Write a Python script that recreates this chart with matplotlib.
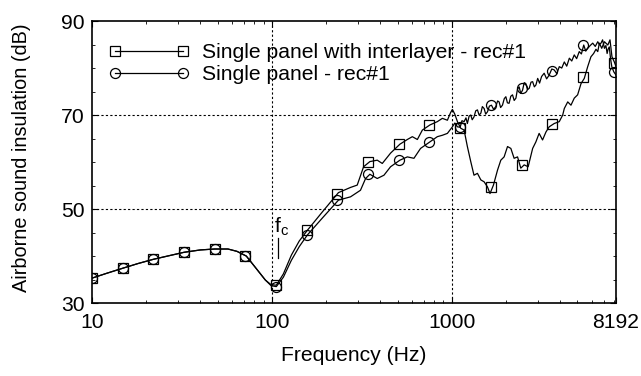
import matplotlib
matplotlib.use("Agg")
import matplotlib.pyplot as plt
from matplotlib.lines import Line2D
from matplotlib.ticker import FixedLocator, MultipleLocator, LogLocator, NullFormatter

plt.rcParams['font.family'] = ['Liberation Sans', 'DejaVu Sans']

# --- data ---
# single panel with interlayer (squares)
il_f = [10, 12, 14.8, 18, 21.9, 27, 32.5, 40, 48, 57, 64, 72.1, 80.9, 92, 99, 105.9,
        115.9, 128.4, 142, 157.7, 191, 234.6, 273.8, 298.3, 323.6, 350.8, 385.5, 411.1,
        457.1, 515.2, 566.6, 604, 644.2, 686.6, 757, 831.8, 887.2, 946.2, 985, 1009,
        1040, 1076, 1122, 1172, 1222, 1276, 1330, 1390, 1452, 1514, 1581, 1633, 1706,
        1798, 1875, 1956, 2043, 2132, 2223, 2323, 2421, 2529, 2661, 2818, 2938, 3062,
        3199, 3342, 3483, 3715, 3963, 4140, 4227, 4416, 4603, 4801, 5012, 5236, 5458,
        5702, 5943, 6152, 6339, 6486, 6622, 6823, 7063, 7379, 7586, 7780, 8017, 8192]
il_db = [35.3, 36.3, 37.4, 38.4, 39.3, 40.1, 40.8, 41.3, 41.5, 41.5, 41.0, 40.0, 37.6,
         34.9, 33.9, 33.8, 36.2, 40.2, 43.2, 45.5, 49.4, 53.5, 54.6, 55.1, 59.0, 60.1,
         60.4, 59.7, 61.9, 63.8, 64.8, 65.4, 64.8, 66.8, 67.9, 68.6, 69.3, 68.9, 70.5,
         71.2, 70.2, 68.6, 67.2, 66.8, 63.3, 60.1, 57.2, 57.6, 56.2, 55.8, 54.7, 53.3,
         55.1, 58.3, 60.4, 61.1, 63.3, 62.9, 60.8, 61.1, 58.7, 59.4, 59.0, 62.9, 64.3,
         66.1, 64.7, 66.4, 67.5, 68.2, 68.6, 70.0, 71.4, 72.8, 72.1, 73.6, 74.3, 76.7,
         77.8, 80.3, 82.4, 83.1, 84.0, 83.5, 85.3, 84.2, 85.6, 84.9, 86.0, 82.4, 81.3, 80.3]

# single panel (circles)
sp_f = [10, 12, 14.8, 18, 21.9, 27, 32.5, 40, 48, 57, 64, 72.1, 80.9, 92, 99, 105.9,
        115.9, 128.4, 142, 157.7, 191, 234.6, 273.8, 311, 332, 350.8, 385.5, 420, 457.1,
        515.2, 566.6, 616.6, 671, 757, 831.8, 887.2, 946.2, 1009, 1040, 1076, 1114, 1140,
        1172, 1200, 1222, 1250, 1276, 1300, 1330, 1360, 1390, 1420, 1452, 1480, 1514,
        1545, 1581, 1620, 1663, 1710, 1758, 1800, 1834, 1870, 1915, 1960, 2000, 2040,
        2084, 2130, 2178, 2225, 2275, 2320, 2371, 2420, 2477, 2530, 2582, 2640, 2698,
        2760, 2818, 2880, 2938, 3006, 3080, 3160, 3266, 3370, 3483, 3600, 3715, 3840,
        3963, 4090, 4227, 4360, 4508, 4650, 4801, 4950, 5117, 5260, 5420, 5560, 5702,
        5890, 6081, 6280, 6486, 6620, 6761, 6900, 7063, 7200, 7311, 7400, 7516, 7640,
        7762, 7962, 8192]
sp_db = [35.3, 36.3, 37.4, 38.4, 39.3, 40.1, 40.8, 41.3, 41.5, 41.5, 41.0, 40.0, 37.6,
         34.9, 33.7, 33.5, 35.5, 39.1, 42.0, 44.5, 48.1, 51.9, 52.6, 54.0, 56.5, 57.4,
         56.5, 57.2, 59.0, 60.4, 61.1, 60.8, 62.9, 64.3, 65.4, 65.7, 66.1, 67.5, 68.3,
         67.5, 67.4, 68.8, 68.6, 69.4, 68.2, 69.8, 70.0, 69.0, 69.6, 70.9, 71.1, 70.0,
         70.4, 71.8, 71.4, 70.2, 70.7, 71.9, 72.1, 71.2, 71.8, 73.0, 72.8, 71.6, 72.1,
         73.5, 73.9, 72.6, 72.5, 74.0, 74.3, 73.1, 73.6, 75.5, 76.0, 74.6, 75.3, 76.9,
         76.7, 75.4, 75.7, 77.0, 77.1, 76.0, 76.4, 77.8, 76.8, 78.2, 78.9, 77.7, 78.5,
         79.8, 79.6, 78.8, 80.3, 80.0, 81.3, 80.4, 82.1, 81.5, 82.8, 82.0, 83.5, 83.0,
         84.9, 83.6, 84.2, 84.8, 85.3, 84.6, 85.6, 85.0, 85.3, 86.0, 84.2, 84.8, 83.1,
         84.0, 84.5, 82.0, 80.3, 79.2, 78.5]

# marker positions
mark_f = [10, 14.8, 21.9, 32.5, 48, 71, 105, 156, 231, 343, 507, 752, 1114, 1650,
          2446, 3625, 5372, 7962]
il_mark = [35.3, 37.4, 39.3, 40.8, 41.5, 40.0, 33.8, 45.5, 53.3, 60.1, 63.8, 67.9,
           67.2, 54.6, 59.4, 68.1, 78.2, 81.0]
sp_mark = [35.3, 37.4, 39.3, 40.8, 41.5, 40.0, 33.5, 44.5, 51.9, 57.4, 60.4, 64.3,
           67.5, 72.1, 75.7, 79.4, 84.9, 79.2]

labels = ["Single panel with interlayer - rec#1", "Single panel - rec#1"]
x_ticks = [10, 100, 1000, 8192]
y_ticks = [30, 50, 70, 90]
FS = 15.2

fig = plt.figure(figsize=(6.41, 3.76), dpi=100)
ax = fig.add_axes([0.1435, 0.194, 0.8175, 0.75])

ax.plot(il_f, il_db, color='black', lw=0.9)
ax.plot(sp_f, sp_db, color='black', lw=0.9)
ax.plot(mark_f, il_mark, ls='none', marker='s', ms=7.2, mfc='none', mec='black', mew=0.9)
ax.plot(mark_f, sp_mark, ls='none', marker='o', ms=7.2, mfc='none', mec='black', mew=0.9)

ax.set_xscale('log')
ax.set_xlim(10, 8192)
ax.set_ylim(30, 90)

ax.xaxis.set_major_locator(FixedLocator(x_ticks))
ax.set_xticklabels([str(t) for t in x_ticks])
ax.xaxis.set_minor_locator(LogLocator(base=10, subs=range(2, 10)))
ax.xaxis.set_minor_formatter(NullFormatter())
ax.yaxis.set_major_locator(FixedLocator(y_ticks))
ax.set_yticklabels([str(t) for t in y_ticks])
ax.yaxis.set_minor_locator(MultipleLocator(5))

ax.tick_params(which='both', direction='in', top=True, right=True, labelsize=FS)
ax.tick_params(axis='x', pad=7)
ax.tick_params(axis='y', pad=5)
ax.tick_params(which='major', length=4, width=0.8)
ax.tick_params(which='minor', length=2.5, width=0.6)

for v in [100, 1000]:
    ax.axvline(v, color='black', lw=0.8, ls=(0, (2, 2)))
for v in [50, 70]:
    ax.axhline(v, color='black', lw=0.8, ls=(0, (2, 2)))

for s in ax.spines.values():
    s.set_linewidth(1.2)

# f_c annotation
ax.text(103, 45.0, r'f$_{\mathregular{c}}$', fontsize=FS)
ax.plot([108, 108], [39.6, 43.8], color='black', lw=0.9)

ax.set_xlabel('Frequency (Hz)', fontsize=FS, labelpad=10)
ax.set_ylabel('Airborne sound insulation (dB)', fontsize=14.3)
ax.yaxis.set_label_coords(-0.116, 0.516)

handles = [Line2D([], [], color='black', lw=0.9, marker='s', ms=7.2, mfc='none', mew=0.9),
           Line2D([], [], color='black', lw=0.9, marker='o', ms=7.2, mfc='none', mew=0.9)]
ax.legend(handles, labels, loc='upper left', frameon=False, fontsize=FS, numpoints=2,
          handlelength=3.82, handletextpad=0.6, labelspacing=0.15,
          bbox_to_anchor=(0.016, 0.952), borderaxespad=0)

fig.savefig('out.png', dpi=100)
